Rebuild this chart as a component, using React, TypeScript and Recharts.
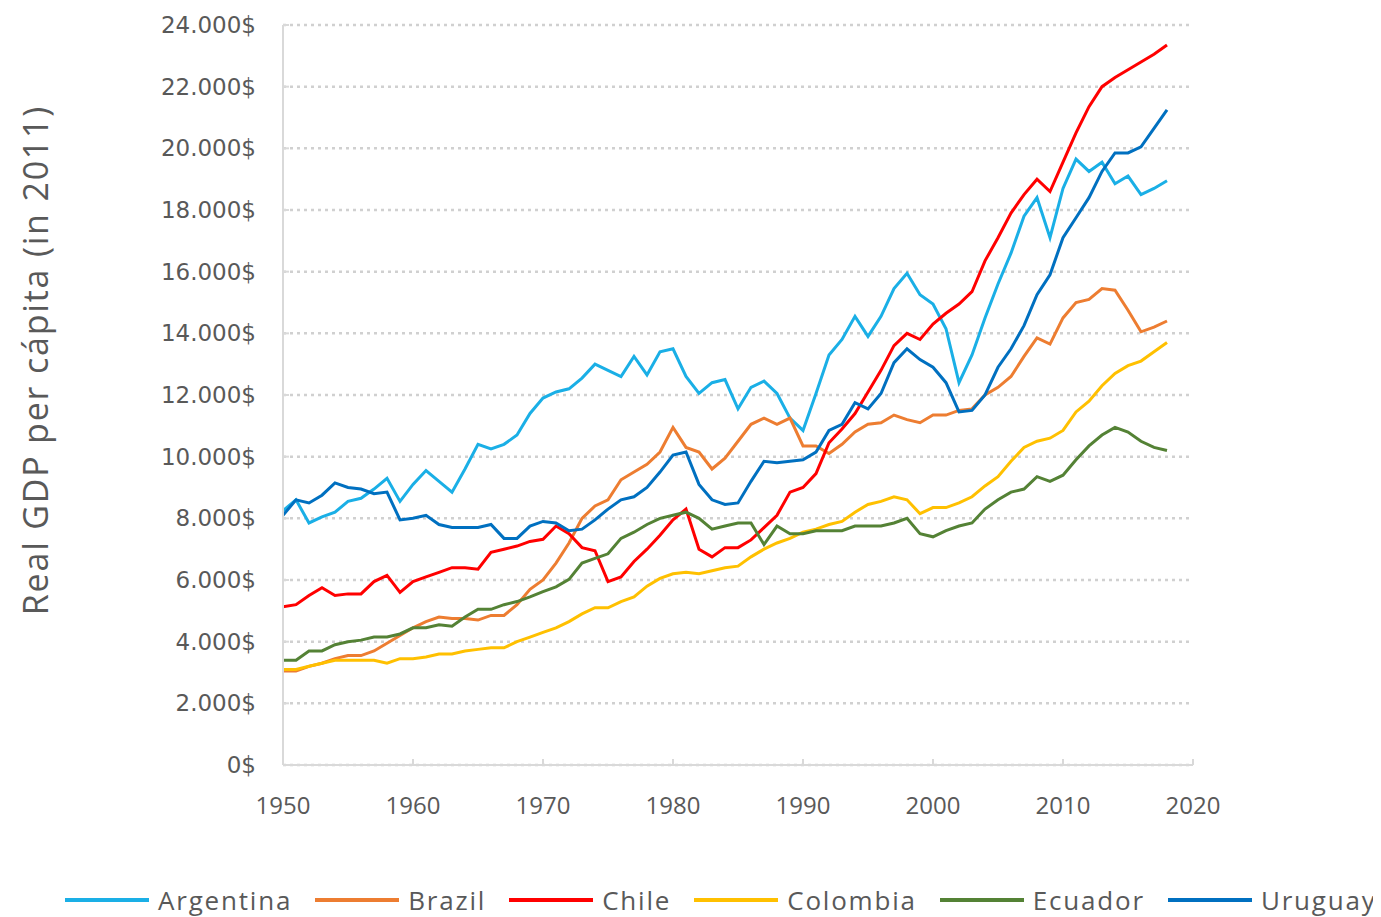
import React from 'react';
import { LineChart, Line, XAxis, YAxis, CartesianGrid, Legend } from 'recharts';

const years = [
  1950, 1951, 1952, 1953, 1954, 1955, 1956, 1957, 1958, 1959,
  1960, 1961, 1962, 1963, 1964, 1965, 1966, 1967, 1968, 1969,
  1970, 1971, 1972, 1973, 1974, 1975, 1976, 1977, 1978, 1979,
  1980, 1981, 1982, 1983, 1984, 1985, 1986, 1987, 1988, 1989,
  1990, 1991, 1992, 1993, 1994, 1995, 1996, 1997, 1998, 1999,
  2000, 2001, 2002, 2003, 2004, 2005, 2006, 2007, 2008, 2009,
  2010, 2011, 2012, 2013, 2014, 2015, 2016, 2017, 2018,
];

const argentina = [
  8250, 8600, 7850, 8050, 8200, 8550, 8650, 8950, 9300, 8550,
  9100, 9550, 9200, 8850, 9600, 10400, 10250, 10400, 10700, 11400,
  11900, 12100, 12200, 12550, 13000, 12800, 12600, 13250, 12650, 13400,
  13500, 12600, 12050, 12400, 12500, 11550, 12250, 12450, 12050, 11250,
  10850, 12050, 13300, 13800, 14550, 13900, 14550, 15450, 15950, 15250,
  14950, 14150, 12400, 13300, 14500, 15600, 16600, 17800, 18400, 17100,
  18700, 19650, 19250, 19550, 18850, 19100, 18500, 18700, 18950,
];

const brazil = [
  3050, 3050, 3200, 3300, 3450, 3550, 3550, 3700, 3950, 4200,
  4450, 4650, 4800, 4750, 4750, 4700, 4850, 4850, 5200, 5700,
  6000, 6550, 7200, 8000, 8400, 8600, 9250, 9500, 9750, 10150,
  10950, 10300, 10150, 9600, 9950, 10500, 11050, 11250, 11050, 11250,
  10350, 10350, 10100, 10400, 10800, 11050, 11100, 11350, 11200, 11100,
  11350, 11350, 11500, 11550, 12000, 12250, 12600, 13250, 13850, 13650,
  14500, 15000, 15100, 15450, 15400, 14750, 14050, 14200, 14400,
];

const chile = [
  5130, 5200, 5500, 5750, 5500, 5550, 5550, 5950, 6150, 5600,
  5950, 6100, 6250, 6400, 6400, 6350, 6900, 7000, 7100, 7250,
  7320, 7750, 7500, 7050, 6950, 5950, 6100, 6600, 7000, 7450,
  7950, 8300, 7000, 6750, 7050, 7050, 7300, 7700, 8100, 8850,
  9000, 9450, 10450, 10900, 11400, 12100, 12800, 13600, 14000, 13800,
  14300, 14650, 14950, 15350, 16350, 17100, 17900, 18500, 19000, 18600,
  19550, 20500, 21350, 22000, 22300, 22550, 22800, 23050, 23350,
];

const colombia = [
  3100, 3100, 3200, 3300, 3400, 3400, 3400, 3400, 3300, 3450,
  3450, 3500, 3600, 3600, 3700, 3750, 3800, 3800, 4000, 4150,
  4300, 4450, 4650, 4900, 5100, 5100, 5300, 5450, 5800, 6050,
  6200, 6250, 6200, 6300, 6400, 6450, 6750, 7000, 7200, 7350,
  7550, 7650, 7800, 7900, 8200, 8450, 8550, 8700, 8600, 8150,
  8350, 8350, 8500, 8700, 9050, 9350, 9850, 10300, 10500, 10600,
  10850, 11450, 11800, 12300, 12700, 12950, 13100, 13400, 13700,
];

const ecuador = [
  3400, 3400, 3700, 3700, 3900, 4000, 4050, 4150, 4150, 4250,
  4450, 4450, 4550, 4500, 4800, 5050, 5050, 5200, 5300, 5450,
  5620, 5780, 6020, 6550, 6700, 6850, 7350, 7550, 7800, 8000,
  8100, 8200, 8000, 7650, 7750, 7850, 7850, 7150, 7750, 7500,
  7500, 7600, 7600, 7600, 7750, 7750, 7750, 7850, 8000, 7500,
  7400, 7600, 7750, 7850, 8300, 8600, 8850, 8950, 9350, 9200,
  9400, 9900, 10350, 10700, 10950, 10800, 10500, 10300, 10200,
];

const uruguay = [
  8100, 8600, 8500, 8750, 9150, 9000, 8950, 8800, 8850, 7950,
  8000, 8100, 7800, 7700, 7700, 7700, 7800, 7350, 7350, 7750,
  7900, 7850, 7600, 7650, 7950, 8300, 8600, 8700, 9000, 9500,
  10050, 10150, 9100, 8600, 8450, 8500, 9200, 9850, 9800, 9850,
  9900, 10150, 10850, 11050, 11750, 11550, 12050, 13050, 13500, 13150,
  12900, 12400, 11450, 11500, 12000, 12900, 13500, 14250, 15250, 15900,
  17100, 17750, 18400, 19250, 19850, 19850, 20050, 20650, 21250,
];

const xTicks = [1950, 1960, 1970, 1980, 1990, 2000, 2010, 2020];
const yTicks = [0, 2000, 4000, 6000, 8000, 10000, 12000, 14000, 16000, 18000, 20000, 22000, 24000];

const series = [
  { key: 'Argentina', values: argentina, color: '#1AAFE6' },
  { key: 'Brazil', values: brazil, color: '#ED7D31' },
  { key: 'Chile', values: chile, color: '#FF0000' },
  { key: 'Colombia', values: colombia, color: '#FFC000' },
  { key: 'Ecuador', values: ecuador, color: '#548235' },
  { key: 'Uruguay', values: uruguay, color: '#0070C0' },
];

const data = years.map((year, i) => {
  const row: Record<string, number> = { year };
  series.forEach((s) => {
    row[s.key] = s.values[i];
  });
  return row;
});

const TEXT = '#595959';
const AXIS = '#D9D9D9';

const formatDollar = (v: number) => {
  const s = String(Math.round(v)).replace(/\B(?=(\d{3})+(?!\d))/g, '.');
  return `${s}$`;
};

const renderLegend = (props: any) => {
  const payload = props.payload || [];
  return (
    <div
      style={{
        display: 'flex',
        alignItems: 'center',
        height: 34,
        paddingLeft: 57,
        boxSizing: 'border-box',
      }}
    >
      {payload.map((p: any, i: number) => (
        <div
          key={p.value}
          style={{ display: 'flex', alignItems: 'center', marginRight: i < payload.length - 1 ? 23 : 0 }}
        >
          <div style={{ width: 84, height: 4, background: p.color, marginRight: 9 }} />
          <span
            style={{
              fontFamily: '"Open Sans", sans-serif',
              fontSize: 26,
              letterSpacing: 1.8,
              color: TEXT,
              lineHeight: '34px',
              whiteSpace: 'nowrap',
            }}
          >
            {p.value}
          </span>
        </div>
      ))}
    </div>
  );
};

const YTitle = (props: any) => {
  const vb = props.viewBox || { x: 0, y: 0, width: 0, height: 0 };
  const cx = vb.x - 48;
  const cy = vb.y + vb.height / 2 - 35;
  return (
    <text
      x={cx}
      y={cy}
      transform={`rotate(-90, ${cx}, ${cy})`}
      textAnchor="middle"
      dominantBaseline="central"
      fill={TEXT}
      style={{ fontFamily: '"Open Sans", sans-serif', fontSize: 34, letterSpacing: 1.8 }}
    >
      Real GDP per cápita (in 2011)
    </text>
  );
};

export default function App() {
  return (
    <LineChart
      width={1373}
      height={909}
      data={data}
      margin={{ top: 17, right: 188, bottom: 0, left: 75 }}
    >
      <CartesianGrid
        vertical={false}
        stroke="#D0D0D0"
        strokeWidth={2.5}
        strokeDasharray="3 4"
      />
      <XAxis
        dataKey="year"
        type="number"
        domain={[1950, 2020]}
        ticks={xTicks}
        allowDataOverflow
        height={118}
        axisLine={{ stroke: AXIS, strokeWidth: 2 }}
        tickLine={{ stroke: AXIS, strokeWidth: 2 }}
        tickSize={-6}
        tickMargin={38}
        tick={{ fill: TEXT, fontSize: 24, fontFamily: '"Open Sans", sans-serif' }}
      />
      <YAxis
        domain={[0, 24000]}
        ticks={yTicks}
        width={200}
        axisLine={{ stroke: AXIS, strokeWidth: 2 }}
        tickLine={{ stroke: AXIS, strokeWidth: 2 }}
        tickSize={-6}
        tickMargin={33}
        tickFormatter={formatDollar}
        tick={{ fill: TEXT, fontSize: 23, fontFamily: '"DejaVu Sans", sans-serif' }}
        label={<YTitle />}
      />
      <Legend
        verticalAlign="bottom"
        content={renderLegend}
        wrapperStyle={{ left: 0, width: 1373, bottom: 0, height: 34 }}
      />
      {series.map((s) => (
        <Line
          key={s.key}
          type="linear"
          dataKey={s.key}
          name={s.key}
          stroke={s.color}
          strokeWidth={3}
          dot={false}
          activeDot={false}
          isAnimationActive={false}
        />
      ))}
    </LineChart>
  );
}
